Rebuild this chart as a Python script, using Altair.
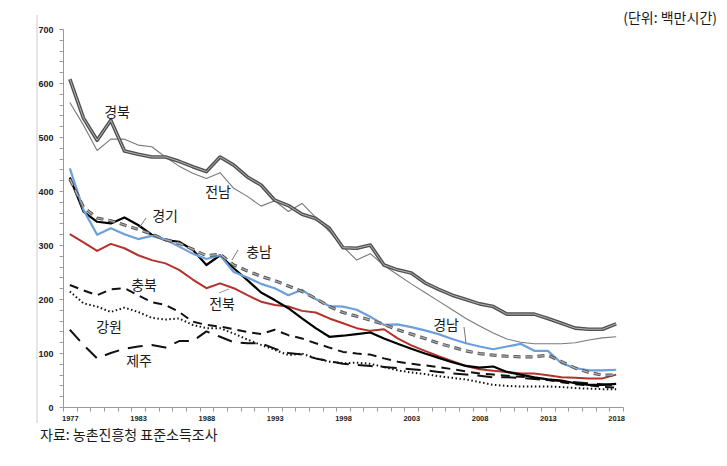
import altair as alt
import pandas as pd

# ---------------- data ----------------
years = ["1977"] + [str(y) for y in range(1979, 2019)]

gyeongbuk = [607, 535, 494, 531, 474, 468, 463, 463, 455, 445, 436, 463, 448, 426, 411, 383, 373, 357, 349, 331,
             295, 294, 300, 263, 254, 248, 230, 218, 207, 199, 191, 186, 172, 172, 172, 164, 155, 146, 144, 144, 154]
jeonnam = [564, 522, 475, 496, 496, 485, 482, 463, 446, 433, 423, 434, 405, 390, 372, 382, 362, 377, 351, 325,
           297, 272, 284, 262, 245, 228, 212, 196, 180, 164, 150, 137, 126, 120, 117, 117, 117, 119, 124, 128, 130]
gyeonggi = [425, 362, 343, 340, 351, 337, 319, 309, 306, 291, 263, 281, 257, 235, 212, 198, 183, 164, 146, 130,
            132, 135, 138, 127, 117, 108, 99, 91, 83, 76, 73, 75, 65, 60, 55, 51, 49, 44, 41, 41, 43]
chungnam = [422, 370, 350, 345, 337, 329, 320, 310, 303, 292, 280, 283, 263, 252, 242, 234, 224, 214, 201, 186,
            175, 168, 161, 153, 143, 135, 127, 118, 111, 104, 99, 96, 94, 93, 93, 96, 84, 72, 64, 59, 59]
gyeongnam = [442, 365, 319, 331, 320, 311, 317, 310, 297, 284, 274, 281, 250, 240, 228, 220, 207, 217, 200, 187,
             186, 180, 167, 152, 153, 148, 142, 135, 126, 118, 112, 107, 112, 117, 104, 104, 81, 72, 68, 68, 69]
jeonbuk = [320, 305, 289, 302, 294, 281, 272, 266, 254, 236, 220, 229, 220, 207, 195, 189, 186, 178, 175, 164,
           155, 146, 141, 144, 127, 114, 104, 94, 85, 76, 70, 67, 65, 62, 62, 59, 55, 54, 53, 53, 60]
chungbuk = [226, 216, 207, 218, 220, 207, 194, 189, 176, 158, 152, 149, 144, 139, 135, 143, 133, 127, 118, 110,
            102, 99, 97, 90, 84, 80, 77, 74, 70, 66, 62, 60, 58, 56, 54, 50, 46, 42, 40, 37, 36]
gangwon = [214, 192, 186, 176, 184, 176, 165, 162, 164, 152, 146, 146, 136, 125, 115, 106, 96, 99, 90, 84,
           81, 82, 80, 74, 68, 64, 61, 57, 54, 51, 46, 41, 39, 38, 38, 38, 37, 35, 34, 33, 33]
jeju = [143, 115, 90, 100, 108, 112, 115, 110, 122, 122, 140, 130, 120, 118, 118, 108, 100, 97, 90, 85,
        80, 78, 76, 74, 72, 70, 68, 65, 62, 60, 58, 55, 55, 54, 52, 50, 48, 46, 44, 42, 40]

series = {
    "경북": gyeongbuk, "전남": jeonnam, "경기": gyeonggi, "충남": chungnam, "경남": gyeongnam,
    "전북": jeonbuk, "충북": chungbuk, "강원": gangwon, "제주": jeju,
}

rows = []
for name, vals in series.items():
    for i, v in enumerate(vals):
        rows.append({"i": i, "region": name, "value": v})
df = pd.DataFrame(rows)

# ---------------- layout ----------------
W, H = 560, 378
N = len(years)
band = W / N

years_js = "[" + ",".join(f"'{y}'" for y in years) + "]"
x_axis = alt.Axis(
    values=[k - 0.5 for k in range(N + 1)],
    labelExpr=f"(datum.value + 0.5) % 5 == 0 && (datum.value + 0.5) < {N} ? {years_js}[datum.value + 0.5] : ''",
    labelOffset=band / 2, labelOverlap=False, labelFlush=False,
    tickSize=4, tickColor="#999999", domainColor="#999999", grid=False, title=None,
    labelFont="Liberation Sans", labelFontWeight="bold", labelFontSize=7.5, labelColor="#222222",
    labelPadding=3,
)
y_axis = alt.Axis(
    values=list(range(0, 701, 20)),
    labelExpr="datum.value % 100 == 0 ? datum.label : ''",
    tickSize=4, tickColor="#999999", domainColor="#999999", grid=False, title=None,
    labelFont="Liberation Sans", labelFontWeight="bold", labelFontSize=9, labelColor="#222222",
    labelPadding=6,
)
x_enc = alt.X("i:Q", scale=alt.Scale(domain=[-0.5, N - 0.5], nice=False, zero=False), axis=x_axis)
y_enc = alt.Y("value:Q", scale=alt.Scale(domain=[0, 700], nice=False), axis=y_axis)

base = alt.Chart(df).encode(x=x_enc, y=y_enc)


def line(name, color, width, dash=None):
    kw = dict(color=color, strokeWidth=width, strokeJoin="round")
    if dash:
        kw["strokeDash"] = dash
    return base.transform_filter(alt.datum.region == name).mark_line(**kw)


layers = [
    line("전남", "#7a7a7a", 1.1),
    line("경북", "#505050", 3.6),
    line("경북", "#b5b5b5", 1.0),
    line("제주", "#111111", 2.0, [15, 9]),
    line("강원", "#111111", 2.0, [1.5, 2.5]),
    line("충북", "#111111", 2.0, [9, 6]),
    line("전북", "#b5322c", 2.0),
    line("경기", "#000000", 2.2),
    line("경남", "#6d9fdb", 2.2),
    line("충남", "#555555", 3.2, [7, 5]),
    line("충남", "#b0b0b0", 1.2, [7, 5]),
]

one = pd.DataFrame({"k": [0]})
ox, oy = 63, 29  # page position of the plot's top-left corner


def label(text, px, py, size=14, align="center", color="#1a1a1a"):
    return alt.Chart(one).mark_text(
        text=text, font="Noto Sans CJK KR", fontSize=size, align=align, baseline="middle", color=color
    ).encode(x=alt.value(px - ox), y=alt.value(py - oy))


def leader(x1, y1, x2, y2, color="#777777"):
    return alt.Chart(one).mark_rule(color=color, strokeWidth=1).encode(
        x=alt.value(x1 - ox), x2=alt.value(x2 - ox), y=alt.value(y1 - oy), y2=alt.value(y2 - oy)
    )


annotations = [
    label("경북", 117, 113),
    label("전남", 218, 193),
    label("경기", 165, 217),
    label("충남", 259, 253),
    label("충북", 144, 286),
    label("전북", 222, 305),
    label("강원", 109, 328),
    label("제주", 139, 362),
    label("경남", 446, 326),
    leader(146, 218, 139, 228),
    leader(238, 250, 232, 260),
    leader(464, 327, 466, 343),
    leader(219, 293, 229, 289, "#999999"),
    label("(단위: 백만시간)", 717, 19, size=14, align="right"),
    label("자료: 농촌진흥청 표준소득조사", 40, 436, size=14, align="left"),
    leader(37, 15, 37, 423, "#cccccc"),
]

chart = alt.layer(*layers, *annotations).properties(
    width=W, height=H, autosize="none",
    padding={"left": ox - 8, "top": oy - 8, "right": 96, "bottom": 50},
).configure_view(stroke=None)

chart.save("out.html", embed_options={"renderer": "svg", "actions": False})
